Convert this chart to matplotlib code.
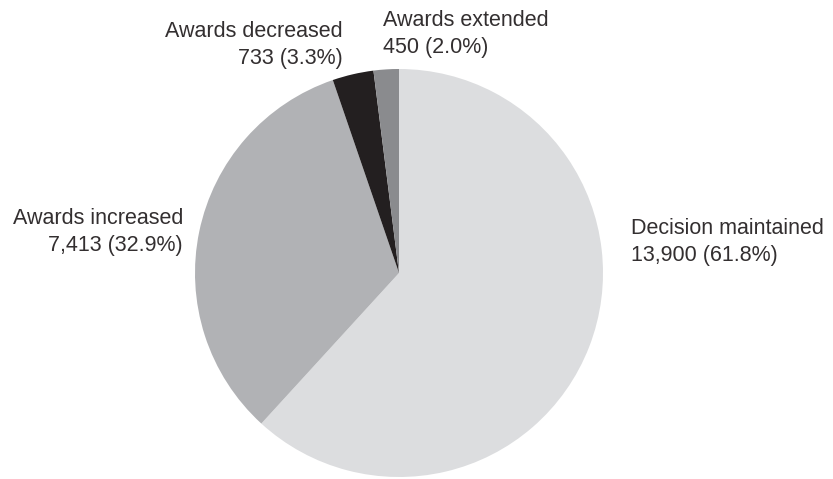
import matplotlib.pyplot as plt

# outcomes of the review
labels = ['Decision maintained', 'Awards increased', 'Awards decreased', 'Awards extended']
counts = [13900, 7413, 733, 450]
pcts = [61.8, 32.9, 3.3, 2.0]
colors = ['#dcdddf', '#b1b2b5', '#231f20', '#8a8b8e']

W, H = 833, 479
fig = plt.figure(figsize=(W / 100, H / 100), dpi=100)

# pie centre and radius in pixels
cx, cy, r = 399, 273, 204
ax = fig.add_axes([(cx - r) / W, (H - cy - r) / H, 2 * r / W, 2 * r / H])
ax.pie(counts, colors=colors, startangle=90, counterclock=False, radius=1,
       wedgeprops=dict(linewidth=0))
ax.set_xlim(-1, 1)
ax.set_ylim(-1, 1)
ax.set_aspect('equal')
ax.axis('off')

# label placement: (x px, y px centre, ha)
spots = [(631, 242, 'left'), (183, 232, 'right'), (343, 45, 'right'), (383, 34, 'left')]
for lab, n, p, (x, y, ha) in zip(labels, counts, pcts, spots):
    fig.text(x / W, 1 - y / H, '%s\n%s (%.1f%%)' % (lab, format(n, ','), p),
             ha=ha, va='center', multialignment=ha, fontsize=15.5,
             family='Liberation Sans', color='#332f30', linespacing=1.32)

fig.savefig('out.png', dpi=100)
